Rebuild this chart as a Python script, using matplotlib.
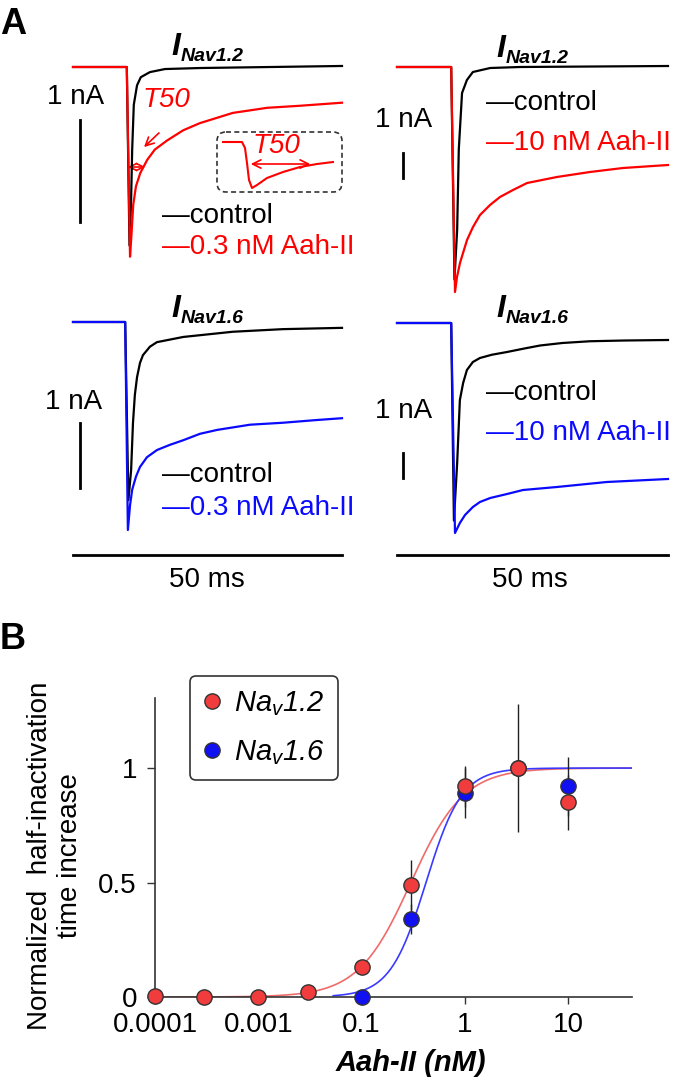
import matplotlib.pyplot as plt
import numpy as np
from matplotlib.patches import FancyBboxPatch
from matplotlib.lines import Line2D

plt.rcParams['font.family'] = 'Liberation Sans'
plt.rcParams['mathtext.fontset'] = 'custom'
plt.rcParams['mathtext.rm'] = 'Liberation Sans:italic'
plt.rcParams['mathtext.it'] = 'Liberation Sans:italic'

RED = '#ff0000'
BLUE = '#0a0aff'

# ---- Panel A traces (time in ms, current in nA) ----
tl_ctrl_t = [0, 10.0, 10.5, 10.8, 11.0, 11.3, 11.9, 12.6, 14.3, 17.1, 23.6, 50]
tl_ctrl_i = [0, 0, -1.75, -1.30, -0.81, -0.37, -0.18, -0.10, -0.05, -0.02, -0.01, 0.01]
tl_tox_t = [0, 10.0, 10.6, 10.8, 11.2, 11.7, 12.5, 13.8, 15.2, 17.5, 20.5, 23.6, 29.7, 36.1, 42.2, 50]
tl_tox_i = [0, 0, -1.86, -1.70, -1.35, -1.17, -1.04, -0.91, -0.81, -0.72, -0.62, -0.55, -0.45, -0.40, -0.38, -0.35]

tr_ctrl_t = [0, 10.0, 10.6, 11.1, 11.4, 12.0, 12.9, 14.0, 17.2, 22.7, 50]
tr_ctrl_i = [0, 0, -8.5, -6.5, -3.3, -1.04, -0.52, -0.2, -0.04, 0, 0.04]
tr_tox_t = [0, 10.0, 10.7, 11.07, 11.62, 12.18, 12.92, 14.02, 15.31, 17.16, 19.0, 21.4, 24.0, 29.5, 35.6, 41.7, 50]
tr_tox_i = [0, 0, -9.0, -8.4, -7.84, -7.44, -6.92, -6.4, -5.92, -5.52, -5.2, -4.92, -4.64, -4.4, -4.2, -4.04, -3.92]

bl_ctrl_t = [0, 9.7, 10.3, 10.8, 11.15, 11.5, 11.9, 12.45, 13.0, 14.3, 15.6, 20.5, 29.7, 39.0, 50]
bl_ctrl_i = [0, 0, -2.74, -2.28, -1.55, -1.12, -0.85, -0.63, -0.51, -0.38, -0.31, -0.23, -0.15, -0.11, -0.09]
bl_tox_t = [0, 9.7, 10.2, 10.6, 11.0, 11.7, 12.45, 13.75, 15.6, 18.0, 20.45, 23.6, 26.8, 32.9, 39.0, 45.0, 50]
bl_tox_i = [0, 0, -3.2, -2.82, -2.58, -2.38, -2.23, -2.08, -1.97, -1.89, -1.82, -1.72, -1.66, -1.58, -1.55, -1.51, -1.48]

br_ctrl_t = [0, 10.0, 10.5, 11.1, 11.6, 12.2, 12.9, 14.0, 15.3, 17.5, 20.3, 23.5, 26.4, 30.5, 35.6, 42.0, 50]
br_ctrl_i = [0, 0, -7.9, -5.6, -3.08, -2.4, -1.88, -1.56, -1.4, -1.27, -1.16, -1.02, -0.90, -0.80, -0.73, -0.70, -0.68]
br_tox_t = [0, 10.0, 10.7, 11.6, 12.55, 14.0, 15.3, 17.2, 20.3, 23.25, 29.5, 38.7, 50]
br_tox_i = [0, 0, -8.4, -8.0, -7.68, -7.36, -7.16, -7.0, -6.84, -6.68, -6.56, -6.36, -6.24]

# small sketch in the T50 inset (arbitrary units)
inset_t = [1.2, 5.0, 5.6, 6.0, 6.4, 7.0, 8.0, 10.0, 13.2, 16.6, 20.0, 23.2]
inset_i = [-0.2, -0.2, -0.32, -0.62, -0.96, -1.12, -1.06, -0.92, -0.80, -0.70, -0.64, -0.60]

# ---- Panel B dose-response ----
# tick labels copied as printed in the figure
conc_ticks = [0.001, 0.01, 0.1, 1, 10]
conc_labels = ['0.0001', '0.001', '0.1', '1', '10']
nav12_conc = [0.001, 0.003, 0.01, 0.03, 0.1, 0.3, 1, 3.3, 10]
nav12_y = [0.005, 0.0, 0.0, 0.02, 0.13, 0.49, 0.92, 1.0, 0.85]
nav12_err = [0, 0, 0, 0, 0, 0.11, 0.09, 0.28, 0.12]
nav16_conc = [0.1, 0.3, 1, 3.3, 10]
nav16_y = [0.0, 0.34, 0.89, 1.0, 0.92]
nav16_err = [0, 0.065, 0.11, 0, 0.13]
# Hill fit parameters (EC50, slope)
nav12_fit = (0.30, 1.7)
nav16_fit = (0.42, 2.5)

W, H = 685, 1083
fig = plt.figure(figsize=(W / 100, H / 100), dpi=100)

# overlay in pixel coordinates for labels and annotations
ov = fig.add_axes([0, 0, 1, 1])
ov.set_xlim(0, W)
ov.set_ylim(H, 0)
ov.axis('off')


def trace_axes(left, top, right, bottom, x0, px_ms, base, px_na):
    ax = fig.add_axes([left / W, 1 - bottom / H, (right - left) / W, (bottom - top) / H])
    ax.set_xlim((left - x0) / px_ms, (right - x0) / px_ms)
    ax.set_ylim(-(bottom - base) / px_na, -(top - base) / px_na)
    ax.axis('off')
    return ax


panels = [
    # axes box, mapping, traces, toxin colour, vertical bar (t, top), 50 ms bar level
    ((40, 20, 345, 290), (73, 5.38, 67, 102), tl_ctrl_t, tl_ctrl_i, tl_tox_t, tl_tox_i, RED, (1.3, -0.52), None),
    ((365, 20, 680, 300), (397, 5.42, 67, 25), tr_ctrl_t, tr_ctrl_i, tr_tox_t, tr_tox_i, RED, (1.1, -3.44), None),
    ((40, 290, 345, 570), (73, 5.38, 322, 65), bl_ctrl_t, bl_ctrl_i, bl_tox_t, bl_tox_i, BLUE, (1.3, -1.55), -3.585),
    ((365, 290, 680, 570), (397, 5.42, 323, 25), br_ctrl_t, br_ctrl_i, br_tox_t, br_tox_i, BLUE, (1.1, -5.2), -9.28),
]
for box, m, ct, ci, tt, ti, col, vbar, hbar in panels:
    ax = trace_axes(*box, *m)
    ax.plot(ct, ci, color='black', lw=1.6, solid_joinstyle='round')
    ax.plot(tt, ti, color=col, lw=1.6, solid_joinstyle='round')
    ax.plot([vbar[0], vbar[0]], [vbar[1], vbar[1] - 1], color='black', lw=2)
    if hbar is not None:
        ax.plot([0, 50], [hbar, hbar], color='black', lw=2)

# inset sketch
ins = trace_axes(217, 132, 342, 192, 217, 5, 132, 50)
ins.plot(inset_t, inset_i, color=RED, lw=1.5)
ov.add_patch(FancyBboxPatch((217, 132), 125, 60, boxstyle='round,pad=0,rounding_size=9',
                            fill=False, ec='#333333', lw=1.2, ls=(0, (3, 2))))

# panel letters
ov.text(0, 7, 'A', fontsize=26, fontweight='bold', va='top', ha='left')
ov.text(0, 622, 'B', fontsize=26, fontweight='bold', va='top', ha='left')

# titles
for x, y, sub in [(171, 55, 'Nav1.2'), (496, 57, 'Nav1.2'), (171, 317, 'Nav1.6'), (496, 317, 'Nav1.6')]:
    ov.text(x, y, 'I', fontsize=23, fontweight='bold', fontstyle='italic', va='baseline')
    ov.text(x + 10, y + 6, sub, fontsize=14, fontweight='bold', fontstyle='italic', va='baseline')

# scale bar labels
for x, y in [(47, 97), (375, 120), (45, 402), (375, 411)]:
    ov.text(x, y, '1 nA', fontsize=20, va='center', ha='left')
for x in [207, 530]:
    ov.text(x, 580, '50 ms', fontsize=20, va='center', ha='center')

# legends in panel A
for x, y1, y2, lab, col in [(162, 216, 247, '0.3 nM Aah-II', RED),
                            (486, 103, 143, '10 nM Aah-II', RED),
                            (162, 475, 508, '0.3 nM Aah-II', BLUE),
                            (486, 393, 433, '10 nM Aah-II', BLUE)]:
    ov.text(x, y1, '\u2014control', fontsize=20, va='center', ha='left', color='black')
    ov.text(x, y2, '\u2014' + lab, fontsize=20, va='center', ha='left', color=col)

# T50 annotations
ov.text(143, 100, 'T50', fontsize=20, fontstyle='italic', color=RED, va='center')
ov.annotate('', xy=(142, 149), xytext=(161, 131),
            arrowprops=dict(arrowstyle='->,head_length=0.6,head_width=0.3', color=RED, lw=1.2))
ov.annotate('', xy=(125, 167), xytext=(148, 167),
            arrowprops=dict(arrowstyle='<->,head_length=0.5,head_width=0.25', color=RED, lw=1.2))
ov.text(253, 146, 'T50', fontsize=20, fontstyle='italic', color=RED, va='center')
ov.annotate('', xy=(248, 164), xytext=(313, 164),
            arrowprops=dict(arrowstyle='<->,head_length=0.6,head_width=0.3', color=RED, lw=1.2))

# ---- Panel B ----
bl_, br_, bt_, bb_ = 155, 632, 698, 997
axb = fig.add_axes([bl_ / W, 1 - bb_ / H, (br_ - bl_) / W, (bb_ - bt_) / H])
axb.patch.set_visible(False)
axb.set_xscale('log')
axb.set_xlim(1e-3, 10 ** (-3 + (br_ - bl_) / 103.3))
axb.set_ylim(0, 1.306)

xf = np.logspace(-3, 1.62, 400)
ec, n = nav12_fit
axb.plot(xf, 1 / (1 + (ec / xf) ** n), color='#f06a6a', lw=1.2, zorder=2)
xf16 = xf[xf >= 0.053]
ec, n = nav16_fit
axb.plot(xf16, 1 / (1 + (ec / xf16) ** n), color='#3a3aff', lw=1.2, zorder=2)

axb.errorbar(nav16_conc, nav16_y, yerr=nav16_err, fmt='none', ecolor='#222222',
             elinewidth=1.0, capsize=0, zorder=3, clip_on=False)
axb.errorbar(nav12_conc, nav12_y, yerr=nav12_err, fmt='none', ecolor='#222222',
             elinewidth=1.0, capsize=0, zorder=3, clip_on=False)
axb.plot(nav16_conc, nav16_y, 'o', ms=11, mfc='#1010f0', mec='#333333', mew=1.0,
         ls='none', zorder=4, clip_on=False)
axb.plot(nav12_conc, nav12_y, 'o', ms=11, mfc='#f03c3c', mec='#333333', mew=1.0,
         ls='none', zorder=5, clip_on=False)

for s in ['top', 'right']:
    axb.spines[s].set_visible(False)
for s in ['left', 'bottom']:
    axb.spines[s].set_color('#333333')
    axb.spines[s].set_linewidth(1.2)
axb.set_yticks([0, 0.5, 1])
axb.set_yticklabels(['0', '0.5', '1'])
axb.set_xticks(conc_ticks)
axb.set_xticklabels(conc_labels)
axb.xaxis.set_minor_locator(plt.NullLocator())
axb.tick_params(axis='y', direction='out', length=6, width=1.0, pad=7, labelsize=20, color='#333333')
axb.tick_params(axis='x', direction='out', length=5, width=1.0, pad=6, labelsize=20, color='#333333')

ov.text(55, 856, 'Normalized  half-inactivation\ntime increase', fontsize=20, rotation=90,
        ha='center', va='center', multialignment='center', linespacing=1.2)
ov.text(411, 1063, 'Aah-II (nM)', fontsize=21, fontweight='bold', fontstyle='italic',
        ha='center', va='center')

handles = [Line2D([], [], marker='o', ls='none', ms=11, mfc='#f03c3c', mec='#333333'),
           Line2D([], [], marker='o', ls='none', ms=11, mfc='#1010f0', mec='#333333')]
leg = axb.legend(handles, [r'$Na_v$1.2', r'$Na_v$1.6'],
                 loc='upper left', bbox_to_anchor=(190 / W, 1 - 676 / H),
                 bbox_transform=fig.transFigure, borderaxespad=0,
                 prop={'size': 21, 'style': 'italic'},
                 handlelength=0.6, handletextpad=0.45, borderpad=0.45, labelspacing=0.7,
                 fancybox=True, framealpha=1)
leg.get_frame().set_edgecolor('#333333')
leg.get_frame().set_linewidth(1.2)

fig.savefig('out.png', dpi=100)
